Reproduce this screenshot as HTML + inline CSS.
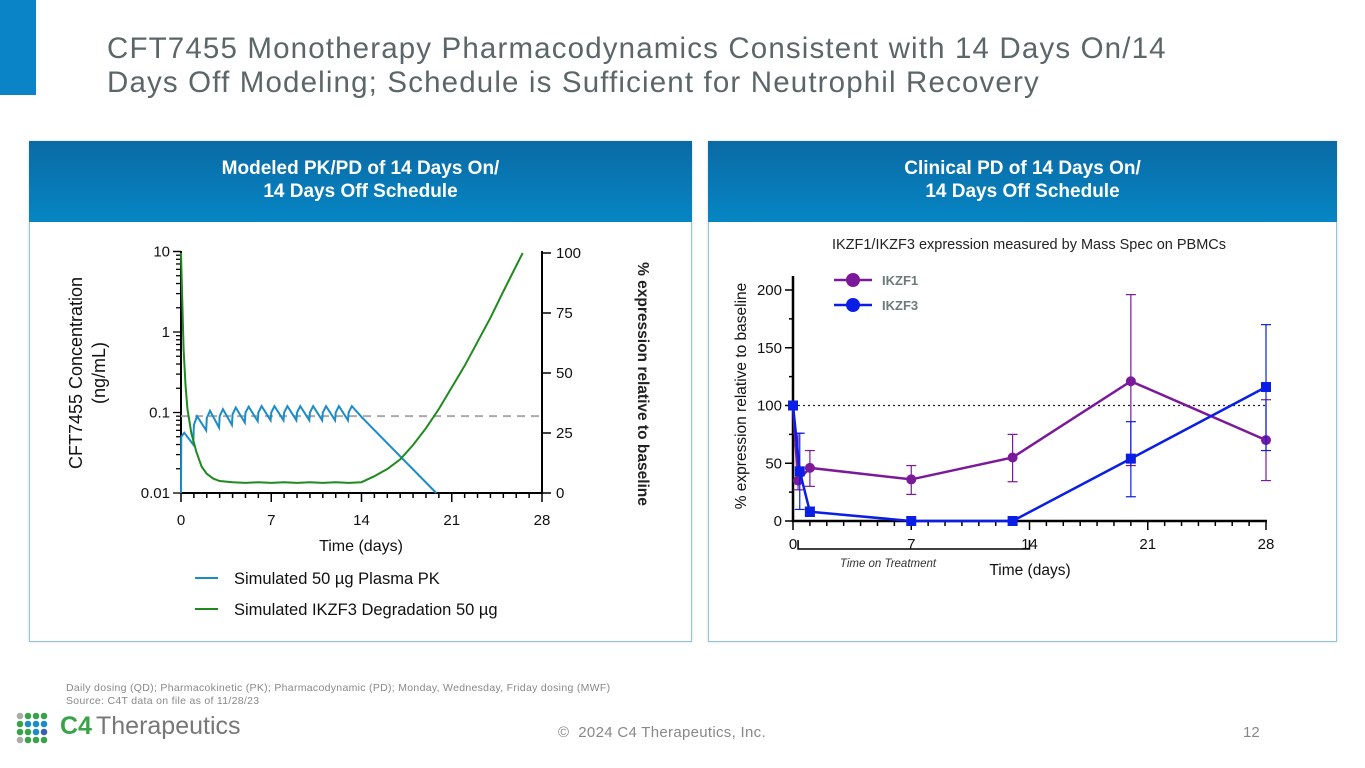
<!DOCTYPE html>
<html><head><meta charset="utf-8">
<style>
body{margin:0;width:1365px;height:768px;background:#fff;position:relative;overflow:hidden;font-family:"Liberation Sans",sans-serif}
.abs{position:absolute}
.title{left:107px;top:32px;font-size:29.5px;line-height:34px;color:#5c6668;letter-spacing:1.15px}
.panel{border:1px solid #8fc3de;background:#fff;box-shadow:0 0 3px rgba(0,0,0,.15)}
.hdr{background:linear-gradient(180deg,#0a6aa5,#0686c4);color:#fff;font-weight:bold;font-size:19px;line-height:23px;text-align:center}
</style></head><body>
<div class="abs" style="left:0;top:0;width:36px;height:95px;background:#0a84c6"></div>
<div class="abs title">CFT7455 Monotherapy Pharmacodynamics Consistent with 14 Days On/14<br>Days Off Modeling; Schedule is Sufficient for Neutrophil Recovery</div>

<div class="abs panel" style="left:29px;top:141px;width:661px;height:499px"></div>
<div class="abs hdr" style="left:29px;top:141px;width:663px;height:81px;padding-top:16px;box-sizing:border-box">Modeled PK/PD of 14 Days On/<br>14 Days Off Schedule</div>
<div class="abs panel" style="left:708px;top:141px;width:627px;height:499px"></div>
<div class="abs hdr" style="left:708px;top:141px;width:629px;height:81px;padding-top:16px;box-sizing:border-box">Clinical PD of 14 Days On/<br>14 Days Off Schedule</div>

<svg class="abs" style="left:0;top:0" width="1365" height="768" id="charts"></svg>

<div class="abs" style="left:66px;top:682px;font-size:10.5px;line-height:13px;color:#888;letter-spacing:0.3px">Daily dosing (QD); Pharmacokinetic (PK); Pharmacodynamic (PD); Monday, Wednesday, Friday dosing (MWF)<br>Source: C4T data on file as of 11/28/23</div>
<div class="abs" style="left:558px;top:724px;font-size:15px;color:#888;letter-spacing:0.3px">© &nbsp;2024 C4 Therapeutics, Inc.</div>
<div class="abs" style="left:1243px;top:724px;font-size:15px;color:#888">12</div>
<svg class="abs" style="left:16px;top:708px" width="240" height="40">
<g id="dots"></g>
<text x="44" y="26" font-size="25" font-weight="bold" fill="#3aa34a" font-family="Liberation Sans, sans-serif">C4</text>
<text x="80" y="26" font-size="25" fill="#777" font-family="Liberation Sans, sans-serif">Therapeutics</text>
</svg>

<script>
// ---- left chart data ----
const pkTimes=[0,0.02,0.25,0.95,1.0,1.25,1.95,2.0,2.25,2.95,3.0,3.25,3.95,4.0,4.25,4.95,5.0,5.25,5.95,6.0,6.25,6.95,7.0,7.25,7.95,8.0,8.25,8.95,9.0,9.25,9.95,10.0,10.25,10.95,11.0,11.25,11.95,12.0,12.25,12.95,13.0,13.25,14,19.8];
const pkValues=[0.01,0.05,0.056,0.04,0.07,0.09,0.06,0.085,0.105,0.065,0.09,0.11,0.07,0.095,0.115,0.075,0.1,0.118,0.078,0.1,0.12,0.08,0.1,0.12,0.08,0.1,0.12,0.08,0.1,0.12,0.08,0.1,0.12,0.08,0.1,0.12,0.08,0.1,0.12,0.08,0.1,0.12,0.088,0.01];
const pdTimes=[0,0.1,0.2,0.35,0.5,0.8,1.2,1.6,2,2.5,3,4,5,6,7,8,9,10,11,12,13,14,15,16,17,18,19,20,21,22,23,24,25,26.5];
const pdValues=[100,80,60,45,35,25,17,11,8,6,5,4.5,4.2,4.5,4.2,4.5,4.2,4.5,4.2,4.5,4.2,4.5,7,10,14,20,27,35,44,53,63,73,84,100];
const leftXTicks=[0,7,14,21,28];
const leftYTicks=[0.01,0.1,1,10];
const rightYTicks=[0,25,50,75,100];
const threshold=0.09;
// ---- right chart data ----
const f1Times=[0,0.3,1,7,13,20,28];
const f1Values=[100,35,46,36,55,121,70];
const f1Lo=[100,27,30,23,34,48,35];
const f1Hi=[100,76,61,48,75,196,105];
const f3Times=[0,0.4,1,7,13,20,28];
const f3Values=[100,43,8,0,0,54,116];
const f3Lo=[100,10,4,0,0,21,61];
const f3Hi=[100,76,12,0,0,86,170];
const rXTicks=[0,7,14,21,28];
const rYTicks=[0,50,100,150,200];

const NS='http://www.w3.org/2000/svg';
const svg=document.getElementById('charts');
function mk(tag,attrs,parent){const e=document.createElementNS(NS,tag);for(const k in attrs)e.setAttribute(k,attrs[k]);(parent||svg).appendChild(e);return e;}
function txt(x,y,s,size,anchor,extra){const t=mk('text',Object.assign({x:x,y:y,'font-size':size,'text-anchor':anchor||'middle','font-family':'Liberation Sans, sans-serif',fill:'#111'},extra||{}));t.textContent=s;return t;}

// left axes
const lx=d=>181+d*(361/28);
const ly=v=>493-(Math.log10(v)+2)*80.5;
const ry=p=>493-p*2.4;
let g=mk('g',{});


mk('line',{x1:181,y1:251,x2:181,y2:494,stroke:'#000','stroke-width':2},g);
mk('line',{x1:180,y1:493,x2:543,y2:493,stroke:'#000','stroke-width':2},g);
mk('line',{x1:542,y1:251,x2:542,y2:494,stroke:'#000','stroke-width':2},g);
for(let d=0;d<=28;d++){mk('line',{x1:lx(d),y1:493,x2:lx(d),y2:d%7==0?502:498,stroke:'#000','stroke-width':1.5},g);}
leftXTicks.forEach(d=>{const t=txt(lx(d),525,String(d),15);});
for(let e=-2;e<1;e++)for(let m=1;m<10;m++){const v=m*Math.pow(10,e);mk('line',{x1:m==1?173:176,y1:ly(v),x2:181,y2:ly(v),stroke:'#000','stroke-width':1.3},g);}
mk('line',{x1:173,y1:ly(10),x2:181,y2:ly(10),stroke:'#000','stroke-width':1.5},g);
leftYTicks.forEach(v=>{const t=txt(170,ly(v)+5,String(v),15,'end');});
rightYTicks.forEach(p=>{mk('line',{x1:542,y1:ry(p),x2:551,y2:ry(p),stroke:'#000','stroke-width':1.5},g);const t=txt(556,ry(p)+5,String(p),15,'start');});
let yt=txt(0,0,'CFT7455 Concentration',18,'middle',{transform:'translate(82,373) rotate(-90)'});

yt=txt(0,0,'(ng/mL)',18,'middle',{transform:'translate(105,373) rotate(-90)'});

yt=txt(0,0,'% expression relative to baseline',15.5,'middle',{transform:'translate(638,384) rotate(90)','font-weight':'bold',fill:'#222'});

yt=txt(361,551,'Time (days)',16);

let th=mk('line',{x1:lx(0),y1:ly(threshold),x2:542,y2:ly(threshold),stroke:'#aaa','stroke-width':2,'stroke-dasharray':'8,6'},g);

let pk=mk('polyline',{points:pkTimes.map((t,i)=>lx(t)+','+ly(pkValues[i])).join(' '),fill:'none',stroke:'#1b8cc8','stroke-width':2},g);

let pd=mk('polyline',{points:pdTimes.map((t,i)=>lx(t)+','+ry(pdValues[i])).join(' '),fill:'none',stroke:'#1f8a1f','stroke-width':2},g);

// legend
mk('line',{x1:195,y1:578,x2:218,y2:578,stroke:'#1b8cc8','stroke-width':2},g);
let lg=txt(234,584,'Simulated 50 µg Plasma PK',16.5,'start');
mk('line',{x1:195,y1:609,x2:218,y2:609,stroke:'#1f8a1f','stroke-width':2},g);
lg=txt(234,615,'Simulated IKZF3 Degradation 50 µg',16.5,'start');

// right chart
const rx=d=>793+d*(473/28);
const rY=v=>521-v*1.155;
let g2=mk('g',{});


let ct=txt(1029,249,'IKZF1/IKZF3 expression measured by Mass Spec on PBMCs',14.5,'middle',{fill:'#222'});

mk('line',{x1:793,y1:276,x2:793,y2:522,stroke:'#000','stroke-width':2.5},g2);
mk('line',{x1:792,y1:521,x2:1267,y2:521,stroke:'#000','stroke-width':2.5},g2);
for(let d=0;d<=28;d++)mk('line',{x1:rx(d),y1:521,x2:rx(d),y2:d%7==0?530:526,stroke:'#000','stroke-width':1.5},g2);
for(let v=0;v<=200;v+=25)mk('line',{x1:v%50==0?785:789,y1:rY(v),x2:793,y2:rY(v),stroke:'#000','stroke-width':1.5},g2);
rXTicks.forEach(d=>{const t=txt(rx(d),549,String(d),15);});
rYTicks.forEach(v=>{const t=txt(782,rY(v)+5,String(v),15,'end');});
yt=txt(0,0,'% expression relative to baseline',15.5,'middle',{transform:'translate(746,396) rotate(-90)'});

yt=txt(1030,575,'Time (days)',15.5);
mk('polyline',{points:`${rx(0.3)},540 ${rx(0.3)},549 ${rx(14)},549 ${rx(14)},540`,fill:'none',stroke:'#000','stroke-width':1.5},g2);
yt=txt(888,567,'Time on Treatment',11.5,'middle',{'font-style':'italic',fill:'#333'});
mk('line',{x1:793,y1:rY(100),x2:1266,y2:rY(100),stroke:'#222','stroke-width':1.3,'stroke-dasharray':'2,3'},g2);
function series(times,vals,lo,hi,color,shape,name){
  times.forEach((t,i)=>{if(hi[i]!==lo[i]){const x=rx(t);mk('line',{x1:x,y1:rY(lo[i]),x2:x,y2:rY(hi[i]),stroke:color,'stroke-width':1.2},g2);
    [lo[i],hi[i]].forEach(v=>mk('line',{x1:x-5,y1:rY(v),x2:x+5,y2:rY(v),stroke:color,'stroke-width':1.2},g2));}});
  const l=mk('polyline',{points:times.map((t,i)=>rx(t)+','+rY(vals[i])).join(' '),fill:'none',stroke:color,'stroke-width':2.5},g2);
  
  times.forEach((t,i)=>{let m;if(shape=='c')m=mk('circle',{cx:rx(t),cy:rY(vals[i]),r:5,fill:color},g2);else m=mk('rect',{x:rx(t)-5,y:rY(vals[i])-5,width:10,height:10,fill:color},g2);
    });
}
series(f1Times,f1Values,f1Lo,f1Hi,'#7a1a9a','c','ikzf1');
series(f3Times,f3Values,f3Lo,f3Hi,'#0a1ee6','s','ikzf3');
mk('line',{x1:834,y1:280,x2:872,y2:280,stroke:'#7a1a9a','stroke-width':2.5},g2);mk('circle',{cx:853,cy:280,r:7,fill:'#7a1a9a'},g2);
lg=txt(882,285,'IKZF1',13,'start',{'font-weight':'bold',fill:'#6e7a7a'});
mk('line',{x1:834,y1:305,x2:872,y2:305,stroke:'#0a1ee6','stroke-width':2.5},g2);mk('circle',{cx:853,cy:305,r:7,fill:'#0a1ee6'},g2);
lg=txt(882,310,'IKZF3',13,'start',{'font-weight':'bold',fill:'#6e7a7a'});

// logo dots
const dg=document.getElementById('dots');
const cols=[['#aaa','#3aa34a','#3aa34a','#3aa34a'],['#3aa34a','#1b8cc8','#1b8cc8','#1b8cc8'],['#3aa34a','#3aa34a','#1b8cc8','#3a5fb0'],['#aaa','#3aa34a','#3aa34a','#3aa34a']];
cols.forEach((row,r)=>row.forEach((c,k)=>mk('circle',{cx:4+k*8,cy:8+r*8,r:3.3,fill:c},dg)));
</script>
</body></html>
